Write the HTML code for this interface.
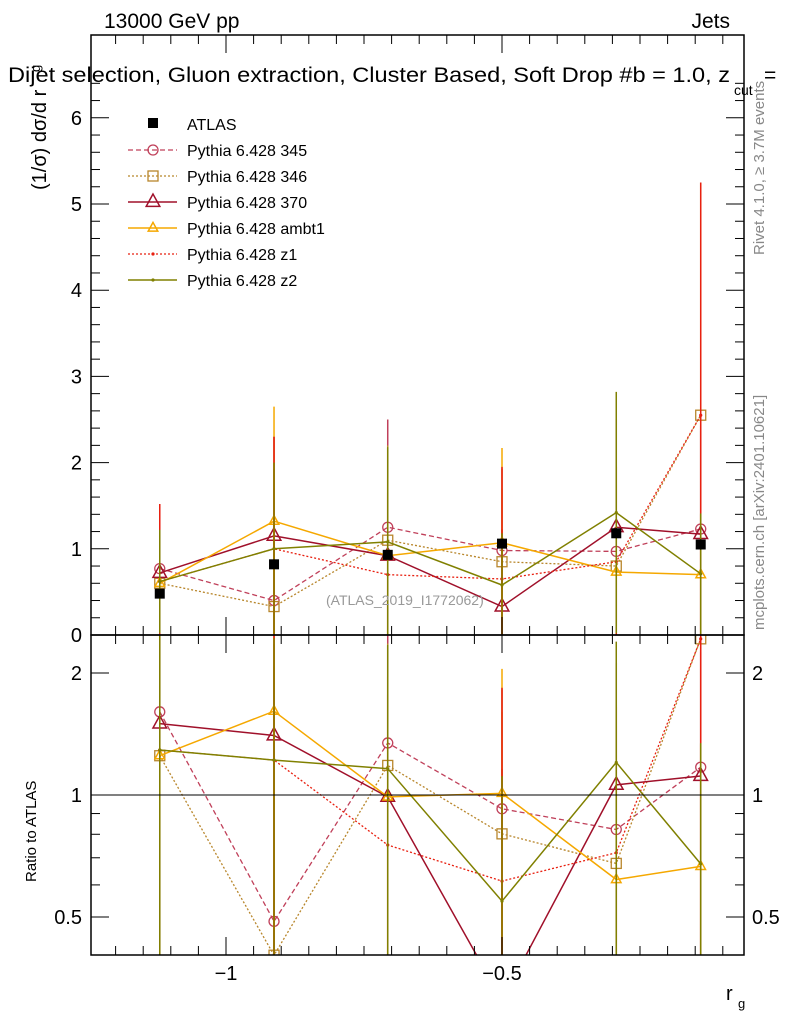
<!DOCTYPE html>
<html><head><meta charset="utf-8"><style>
html,body{margin:0;background:#fff;width:786px;height:1024px;overflow:hidden}
svg{display:block}
svg text{font-family:"Liberation Sans",sans-serif}
</style></head><body>
<svg id="c" width="786" height="1024" xmlns="http://www.w3.org/2000/svg"></svg>
<script>
const xs = [-1.12, -0.913, -0.707, -0.5, -0.293, -0.14];
const atlas = [0.48, 0.82, 0.93, 1.06, 1.18, 1.05];
const atlasErr = [0.05, 0.05, 0.05, 0.05, 0.06, 0.06];
const names = ['Pythia 6.428 345','Pythia 6.428 346','Pythia 6.428 370','Pythia 6.428 ambt1','Pythia 6.428 z1','Pythia 6.428 z2'];
const v345 = [0.77, 0.40, 1.25, 0.98, 0.97, 1.23];
const v346 = [0.60, 0.33, 1.10, 0.85, 0.80, 2.55];
const v370 = [0.72, 1.15, 0.92, 0.33, 1.25, 1.17];
const vambt1 = [0.60, 1.32, 0.92, 1.07, 0.73, 0.70];
const vz1 = [0.62, 1.00, 0.70, 0.65, 0.85, 2.55];
const vz2 = [0.62, 1.00, 1.08, 0.58, 1.42, 0.71];
const e345 = [0.75, 1.3, 1.25, 0.95, 1.0, 1.2];
const e346 = [0.6, 1.6, 1.1, 0.85, 0.95, 2.7];
const e370 = [0.7, 1.15, 1.25, 0.9, 1.25, 1.2];
const eambt1 = [0.6, 1.33, 0.9, 1.1, 0.75, 0.7];
const ez1 = [0.9, 1.3, 0.95, 1.3, 1.1, 2.7];
const ez2 = [0.6, 1.0, 1.1, 0.6, 1.4, 0.7];
const yTicks = [0,1,2,3,4,5,6];
const rTicks = [0.5,1,2];
const xTicks = [-1,-0.5];
const xTickLabels = ['\u22121','\u22120.5'];

const NS='http://www.w3.org/2000/svg', svg=document.getElementById('c');
function el(t,a,p){const e=document.createElementNS(NS,t);for(const k in a)e.setAttribute(k,a[k]);(p||svg).appendChild(e);return e;}
const L=91,R=744,T=35,M=635,B=955;
const X=v=>226+(v+1)*552;
const Y=v=>M-v*86.2;
const RY=v=>795-Math.log2(v)*122;
const styles=[
 {c:'#c0405a',d:'5,3',m:'circle',w:1.3},
 {c:'#b8862b',d:'2,2',m:'square',w:1.3},
 {c:'#a0102a',d:'',m:'tri',w:1.5},
 {c:'#f5a800',d:'',m:'tri',w:1.5,s:0.7},
 {c:'#e82010',d:'2,2',m:'dot',w:1.3},
 {c:'#808000',d:'',m:'dot',w:1.5}];
const vals=[v345,v346,v370,vambt1,vz1,vz2], errs=[e345,e346,e370,eambt1,ez1,ez2];
function marker(g,m,x,y,c,s){s=s||1;
 if(m==='circle')el('circle',{cx:x,cy:y,r:5,fill:'none',stroke:c,'stroke-width':1.3},g);
 else if(m==='square')el('rect',{x:x-5,y:y-5,width:10,height:10,fill:'none',stroke:c,'stroke-width':1.3},g);
 else if(m==='tri'){const r=8*s;el('polygon',{points:`${x},${y-r} ${x-r*0.85},${y+r*0.55} ${x+r*0.85},${y+r*0.55}`,fill:'none',stroke:c,'stroke-width':1.5},g);}
 else el('circle',{cx:x,cy:y,r:1.6,fill:c},g);}
el('defs',{}).innerHTML=`<clipPath id="cu"><rect x="${L}" y="${T}" width="${R-L}" height="${M-T}"/></clipPath><clipPath id="cl"><rect x="${L}" y="${M}" width="${R-L}" height="${B-M}"/></clipPath>`;
vals.forEach((v,i)=>{const s=styles[i];const g=el('g',{'clip-path':'url(#cu)'});
 
 
 v.forEach((y,j)=>el('line',{x1:X(xs[j]),x2:X(xs[j]),y1:Y(Math.max(0,y-errs[i][j])),y2:Y(y+errs[i][j]),stroke:s.c,'stroke-width':1.5},g));
 el('polyline',{points:v.map((y,j)=>X(xs[j])+','+Y(y)).join(' '),fill:'none',stroke:s.c,'stroke-width':s.w,'stroke-dasharray':s.d},g);
 v.forEach((y,j)=>marker(g,s.m,X(xs[j]),Y(y),s.c,s.s));
 const gr=el('g',{'clip-path':'url(#cl)'});
 
 
 v.forEach((y,j)=>{const r=y/atlas[j],e=errs[i][j]/atlas[j];el('line',{x1:X(xs[j]),x2:X(xs[j]),y1:RY(Math.max(0.01,r-e)),y2:RY(r+e),stroke:s.c,'stroke-width':1.5},gr);});
 el('polyline',{points:v.map((y,j)=>X(xs[j])+','+RY(y/atlas[j])).join(' '),fill:'none',stroke:s.c,'stroke-width':s.w,'stroke-dasharray':s.d},gr);
 v.forEach((y,j)=>marker(gr,s.m,X(xs[j]),RY(y/atlas[j]),s.c,s.s));
});
const ga=el('g',{});
atlas.forEach((y,j)=>{el('rect',{x:X(xs[j])-5,y:Y(y)-5,width:10,height:10,fill:'#000'},ga);el('line',{x1:X(xs[j]),x2:X(xs[j]),y1:Y(y-atlasErr[j]),y2:Y(y+atlasErr[j]),stroke:'#000'},ga);});
el('line',{x1:L,x2:R,y1:RY(1),y2:RY(1),stroke:'#000','stroke-width':1});
el('rect',{x:L,y:T,width:R-L,height:M-T,fill:'none',stroke:'#000','stroke-width':1.5});
el('rect',{x:L,y:M,width:R-L,height:B-M,fill:'none',stroke:'#000','stroke-width':1.5});
for(let v=0;v<=6.6;v+=0.2){const y=Y(v);if(y<T)break;const maj=Math.abs(v-Math.round(v))<0.01;const l=maj?18:9;
 el('line',{x1:L,x2:L+l,y1:y,y2:y,stroke:'#000'});el('line',{x1:R,x2:R-l,y1:y,y2:y,stroke:'#000'});}
yTicks.forEach(v=>{const t=el('text',{x:L-9,y:Y(v)+7,'font-size':20,'text-anchor':'end'});t.textContent=v;
 });
[0.5,0.6,0.7,0.8,0.9,1,2].forEach(v=>{const y=RY(v);const maj=rTicks.includes(v),l=maj?18:9;el('line',{x1:L,x2:L+l,y1:y,y2:y,stroke:'#000'});el('line',{x1:R,x2:R-l,y1:y,y2:y,stroke:'#000'});});
rTicks.forEach(v=>{const a=el('text',{x:L-9,y:RY(v)+7,'font-size':20,'text-anchor':'end'});a.textContent=v;
 
 const b=el('text',{x:R+8,y:RY(v)+7,'font-size':20});b.textContent=v;
 });
for(let k=-24;k<=-1;k++){const v=k*0.05,x=X(v);if(x<L||x>R)continue;const maj=k%10===0,l=maj?18:9;
 [[T,1],[M,-1],[M,1],[B,-1]].forEach(([y0,d])=>el('line',{x1:x,x2:x,y1:y0,y2:y0+d*l,stroke:'#000'}));}
xTicks.forEach((v,i)=>{const t=el('text',{x:X(v),y:980,'font-size':20,'text-anchor':'middle'});t.textContent=xTickLabels[i];
 });
function txt(s,a,n){const t=el('text',a);t.textContent=s;return t;}
txt('13000 GeV pp',{x:104,y:28,'font-size':21},'energy-label');
txt('Jets',{x:730,y:28,'font-size':21,'text-anchor':'end'},'process-label');
txt('Dijet selection, Gluon extraction, Cluster Based, Soft Drop #b = 1.0, z',{x:8,y:82,'font-size':21,textLength:722,lengthAdjust:'spacingAndGlyphs'},'plot-title');
txt('cut',{x:734,y:95,'font-size':14},'title-subscript');
txt('=',{x:764,y:82,'font-size':21},'title-eq');
txt('(ATLAS_2019_I1772062)',{x:326,y:605,'font-size':14,fill:'#999'},'analysis-id');
txt('r',{x:726,y:1000,'font-size':20},'x-axis-title');
txt('g',{x:738,y:1008,'font-size':13},'x-axis-sub');
txt('(1/σ) dσ/d r',{x:0,y:0,'font-size':20,transform:'translate(46,190) rotate(-90)'},'y-axis-title');
txt('g',{x:0,y:0,'font-size':13,transform:'translate(40,72) rotate(-90)'},'y-axis-sub');
txt('Ratio to ATLAS',{x:0,y:0,'font-size':15,transform:'translate(36,882) rotate(-90)'},'ratio-axis-title');
txt('Rivet 4.1.0, ≥ 3.7M events',{x:0,y:0,'font-size':15,fill:'#888',transform:'translate(764,255) rotate(-90)'},'rivet-label');
txt('mcplots.cern.ch [arXiv:2401.10621]',{x:0,y:0,'font-size':15,fill:'#888',transform:'translate(764,630) rotate(-90)'},'mcplots-label');
const lg=el('g',{});
el('rect',{x:148,y:118,width:10,height:10,fill:'#000'},lg);
txt('ATLAS',{x:187,y:130,'font-size':16},'legend-entry-atlas');
names.forEach((n,i)=>{const y=150+i*26,s=styles[i];
 el('line',{x1:128,x2:177,y1:y,y2:y,stroke:s.c,'stroke-width':s.w,'stroke-dasharray':s.d},lg);
 marker(lg,s.m,153,y,s.c,s.s);
 txt(n,{x:187,y:y+6,'font-size':16},'legend-entry');});
</script>
</body></html>
